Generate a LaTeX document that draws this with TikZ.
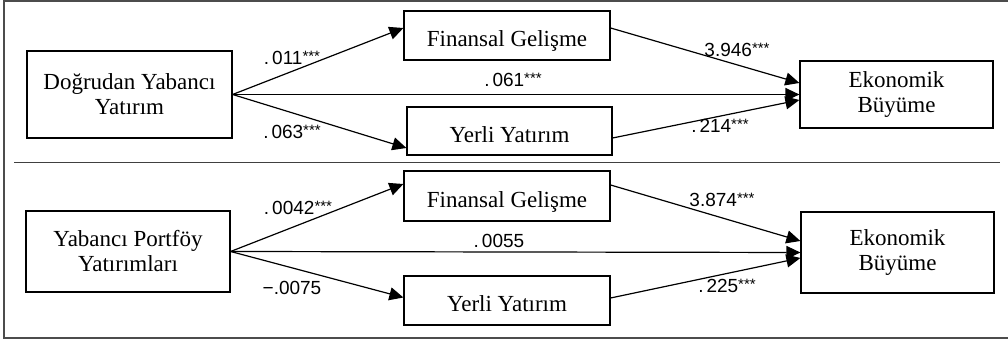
\documentclass[tikz,border=0pt]{standalone}
\usepackage{fontspec}
\setmainfont{Liberation Serif}
\newfontfamily\coeffont{Liberation Sans}
\newcommand\stars{\raisebox{1.5pt}{\fontsize{7.5}{8}\selectfont ***}}
\newcommand\pt{.\kern1.5pt}
\usetikzlibrary{arrows.meta}

\begin{document}
\begin{tikzpicture}[x=0.5pt,y=-0.5pt,
  box/.style={draw,line width=0.6pt,align=center,inner sep=0pt,font=\fontsize{11.5}{12.5}\selectfont},
  onebox/.style={box,text height=12pt,text depth=0.5pt},
  link/.style={line width=0.6pt,-{Triangle[length=7pt,width=6.5pt]}},
  coef/.style={inner sep=0pt,font=\coeffont\fontsize{9.5}{11}\selectfont}]
\useasboundingbox (0,0) rectangle (1008,340);
\draw[black!70,line width=1pt] (1008,1) -- (3.5,1) -- (3.5,338.5) -- (1008,338.5);
\draw[black!75,line width=0.5pt] (14,163) -- (1000,163);

% upper model
\node[box,minimum width=102.5pt,minimum height=43.5pt] (dyy) at (129.5,94.5) {Doğrudan Yabancı\\Yatırım};
\node[onebox,minimum width=103pt,minimum height=24.5pt] (fg1) at (507,35.5) {Finansal Gelişme};
\node[onebox,minimum width=102.5pt,minimum height=24pt] (yy1) at (509.5,131) {Yerli Yatırım};
\node[box,minimum width=96.5pt,minimum height=33.5pt] (eb1) at (896.5,94.5) {Ekonomik\\Büyüme};

\draw[link] (dyy.east) -- ([yshift=3.75pt]fg1.west);
\draw[link] (dyy.east) -- ([yshift=-8.5pt]yy1.west);
\draw[link] (dyy.east) -- (eb1.west);
\draw[link] ([yshift=3.75pt]fg1.east) -- ([yshift=5.75pt]eb1.west);
\draw[link] ([yshift=-3.5pt]yy1.east) -- ([yshift=-2.75pt]eb1.west);

\node[coef] (c1) at (292,58) {\pt011\stars};
\node[coef] (c2) at (292,132) {\pt063\stars};
\node[coef] (c3) at (513,80) {\pt061\stars};
\node[coef] (c4) at (737,50) {3.946\stars};
\node[coef] (c5) at (720,126) {\pt214\stars};

% lower model
\node[box,minimum width=102pt,minimum height=40.5pt] (ypy) at (128,251.5) {Yabancı Portföy\\Yatırımları};
\node[onebox,minimum width=103pt,minimum height=25pt] (fg2) at (507,196) {Finansal Gelişme};
\node[onebox,minimum width=103pt,minimum height=24.5pt] (yy2) at (507,300.5) {Yerli Yatırım};
\node[box,minimum width=96.5pt,minimum height=40.5pt] (eb2) at (897.5,252.5) {Ekonomik\\Büyüme};

\draw[link] (ypy.east) -- ([yshift=6pt]fg2.west);
\draw[link] (ypy.east) -- ([yshift=1.5pt]yy2.west);
\draw[link] (ypy.east) -- (eb2.west);
\draw[link] ([yshift=5.5pt]fg2.east) -- ([yshift=5.75pt]eb2.west);
\draw[link] ([yshift=1.25pt]yy2.east) -- ([yshift=-2.75pt]eb2.west);

\node[coef] (c6) at (298,208) {\pt0042\stars};
\node[coef] (c7) at (292,288) {−.0075};
\node[coef] (c8) at (499,241) {\pt0055};
\node[coef] (c9) at (722,200) {3.874\stars};
\node[coef] (c10) at (727,286) {\pt225\stars};
\end{tikzpicture}
\end{document}
